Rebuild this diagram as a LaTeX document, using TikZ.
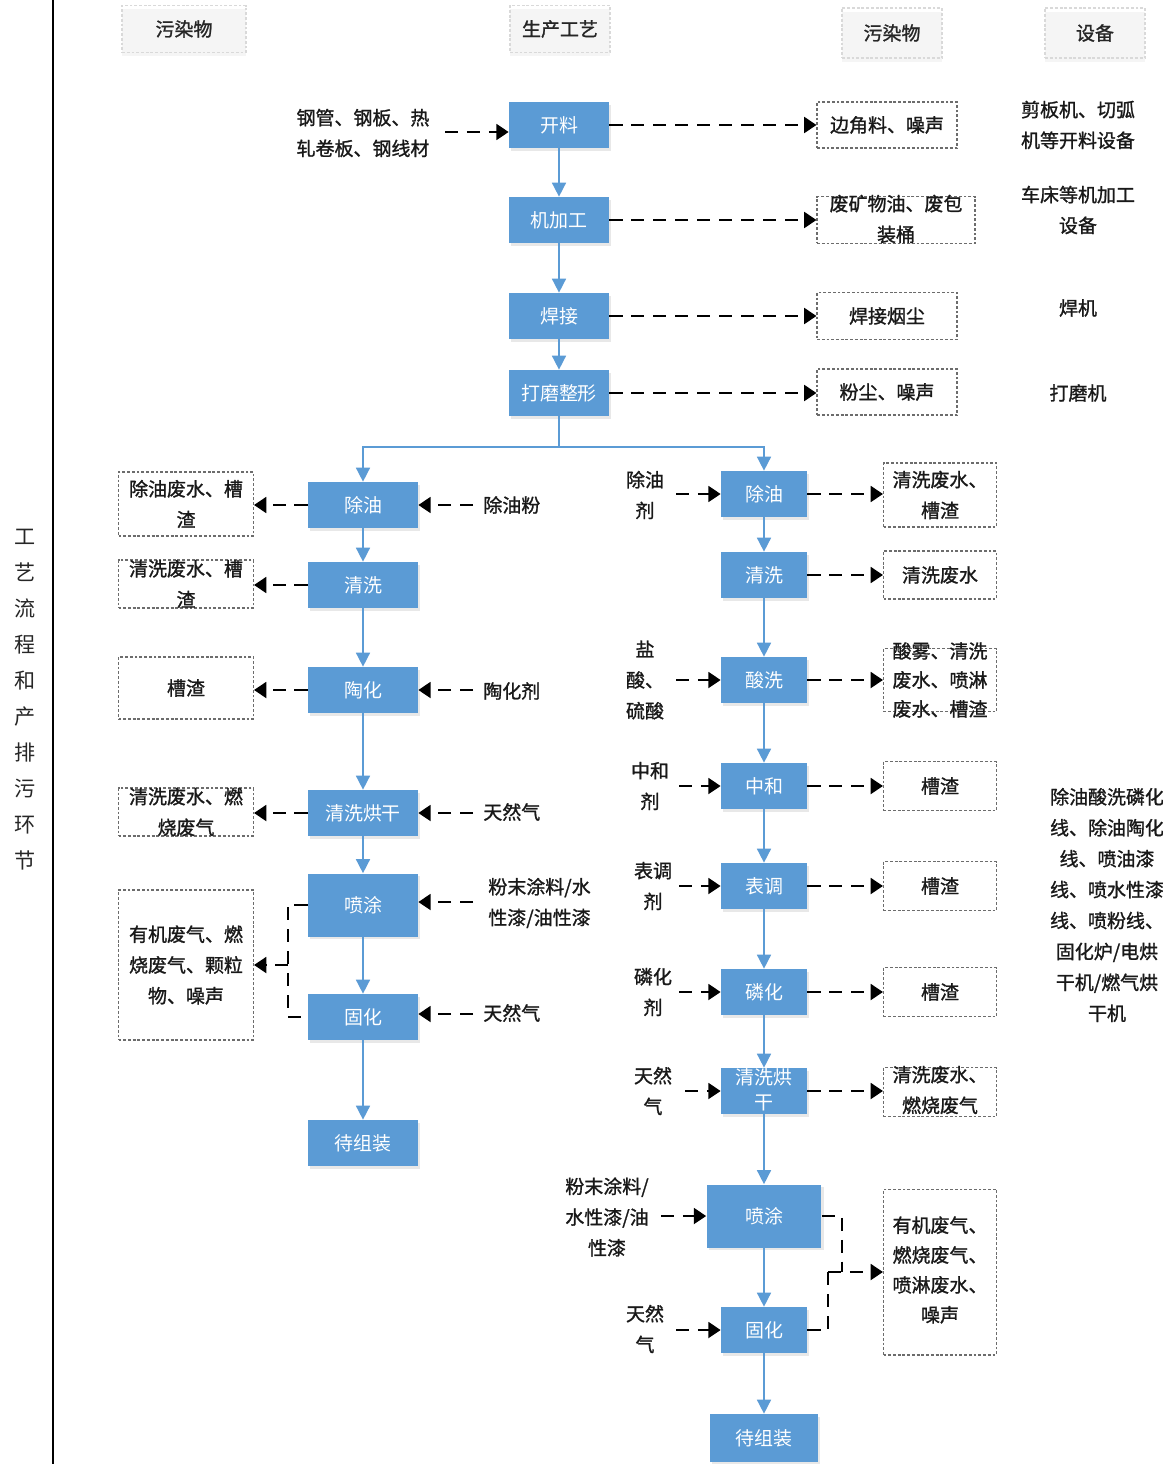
\documentclass[tikz,border=0pt]{standalone}
\usepackage{fontspec}
\newfontfamily\cjk{Noto Sans CJK SC}
\newfontfamily\cjkb{Noto Sans CJK SC}[FakeBold=1.2]
\usetikzlibrary{arrows.meta,shadows}
\definecolor{pblue}{HTML}{5B9BD5}
\tikzset{
  pbox/.style={fill=pblue, draw=none, text=white, font=\cjk\fontsize{10.8}{15}\selectfont, align=center, inner sep=0pt, minimum height=0.92cm, drop shadow={opacity=0.18, shadow xshift=1.2pt, shadow yshift=-1.5pt}},
  lbox/.style={pbox, minimum width=2.2cm},
  rbox/.style={pbox, minimum width=1.72cm},
  tbox/.style={pbox, minimum width=2.0cm},
  obox/.style={draw=gray!85!black, dash pattern=on 1.6pt off 1.1pt, line width=0.6pt, inner sep=0pt},
  hbox/.style={draw=gray!30, dash pattern=on 1.6pt off 1.1pt, line width=0.6pt, inner sep=0pt, minimum width=2cm, minimum height=0.94cm, font=\cjkb\fontsize{10.8}{15}\selectfont, text=black!85, drop shadow={opacity=0.08, shadow xshift=0pt, shadow yshift=-2pt}},
  txt/.style={font=\cjkb\fontsize{10.8}{17.5}\selectfont, align=center, inner sep=0pt, text=black!90},
  wtxt/.style={font=\cjk\fontsize{10.8}{16}\selectfont, align=center, inner sep=0pt, text=white},
  flow/.style={draw=pblue, line width=0.9pt, -{Triangle[width=8pt,length=8pt]}},
  fline/.style={draw=pblue, line width=0.9pt},
  darr/.style={line width=1.4pt, dash pattern=on 7.5pt off 5pt, -{Triangle[width=9pt,length=7pt]}},
  dline/.style={line width=1.4pt, dash pattern=on 7.5pt off 5pt},
}
\begin{document}
\begin{tikzpicture}[x=0.02cm,y=-0.02cm]
\useasboundingbox (0,0) rectangle (1163,1464);
\fill[white] (0,0) rectangle (1163,1464);
\clip (0,0) rectangle (1163,1464);

% side title
\draw[line width=0.9pt] (53,0) -- (53,1464);
\node[font=\cjk\fontsize{12}{20.5}\selectfont, align=center, inner sep=0pt, text=black!85] (title) at (25,700) {工\\艺\\流\\程\\和\\产\\排\\污\\环\\节};

% headers
\node[hbox, minimum width=2.48cm] (h1) at (184,29) {污染物};
\node[hbox] (h2) at (560,29) {生产工艺};
\node[hbox, minimum height=1.0cm] (h3) at (892,33) {污染物};
\node[hbox, minimum height=1.0cm] (h4) at (1095,33) {设备};

% top process
\node[tbox] (kl) at (559,125) {开料};
\node[tbox] (jjg) at (559,220) {机加工};
\node[tbox] (hj) at (559,316) {焊接};
\node[tbox] (dm) at (559,393) {打磨整形};
\draw[flow] (kl) -- (jjg);
\draw[flow] (jjg) -- (hj);
\draw[flow] (hj) -- (dm);

\node[txt] (in0) at (363,133) {钢管、钢板、热\\轧卷板、钢线材};
\coordinate (in0s) at (445,132);
\draw[darr] (in0s) -- (in0s -| kl.west);

\node[obox, minimum width=2.8cm, minimum height=0.92cm] (ot1) at (887,125) {};
\node[txt] (ot1t) at (ot1) {边角料、噪声};
\node[obox, minimum width=3.16cm, minimum height=0.94cm] (ot2) at (896,220) {};
\node[txt] (ot2t) at (896,219) {废矿物油、废包\\装桶};
\node[obox, minimum width=2.8cm, minimum height=0.94cm] (ot3) at (887,316) {};
\node[txt] (ot3t) at (ot3) {焊接烟尘};
\node[obox, minimum width=2.8cm, minimum height=0.92cm] (ot4) at (887,392) {};
\node[txt] (ot4t) at (ot4) {粉尘、噪声};
\draw[darr] (kl.east) -- (kl.east -| ot1.west);
\draw[darr] (jjg.east) -- (jjg.east -| ot2.west);
\draw[darr] (hj.east) -- (hj.east -| ot3.west);
\draw[darr] (dm.east) -- (dm.east -| ot4.west);

\node[txt] (e1) at (1078,125) {剪板机、切弧\\机等开料设备};
\node[txt] (e2) at (1078,210) {车床等机加工\\设备};
\node[txt] (e3) at (1078,308) {焊机};
\node[txt] (e4) at (1078,393) {打磨机};

% split
\coordinate (sp) at (559,447);
\draw[fline] (dm.south) -- (sp);

% left column
\node[lbox] (l1) at (363,505) {除油};
\node[lbox] (l2) at (363,585) {清洗};
\node[lbox] (l3) at (363,690) {陶化};
\node[lbox] (l4) at (363,813) {清洗烘干};
\node[lbox, minimum height=1.26cm] (l5) at (363,905) {喷涂};
\node[lbox] (l6) at (363,1017) {固化};
\node[lbox] (l7) at (363,1143) {待组装};
\draw[flow] (sp) -| (l1.north);
\draw[flow] (l1) -- (l2);
\draw[flow] (l2) -- (l3);
\draw[flow] (l3) -- (l4);
\draw[flow] (l4) -- (l5);
\draw[flow] (l5) -- (l6);
\draw[flow] (l6) -- (l7);

\node[obox, minimum width=2.7cm, minimum height=1.28cm] (lo1) at (186,504) {};
\node[txt] (lo1t) at (lo1) {除油废水、槽\\渣};
\node[obox, minimum width=2.7cm, minimum height=0.96cm] (lo2) at (186,584) {};
\node[txt] (lo2t) at (lo2) {清洗废水、槽\\渣};
\node[obox, minimum width=2.7cm, minimum height=1.24cm] (lo3) at (186,688) {};
\node[txt] (lo3t) at (lo3) {槽渣};
\node[obox, minimum width=2.7cm, minimum height=0.96cm] (lo4) at (186,812) {};
\node[txt] (lo4t) at (lo4) {清洗废水、燃\\烧废气};
\node[obox, minimum width=2.7cm, minimum height=3.0cm] (lo5) at (186,965) {};
\node[txt] (lo5t) at (lo5) {有机废气、燃\\烧废气、颗粒\\物、噪声};
\draw[darr] (l1.west) -- (l1.west -| lo1.east);
\draw[darr] (l2.west) -- (l2.west -| lo2.east);
\draw[darr] (l3.west) -- (l3.west -| lo3.east);
\draw[darr] (l4.west) -- (l4.west -| lo4.east);
\coordinate (lbx) at (288,965);
\draw[dline] (l5.west) -- (l5.west -| lbx) -- (l6.west -| lbx) -- (l6.west);
\draw[darr] (lbx) -- (lbx -| lo5.east);

\node[txt, anchor=west] (li1) at (483,505) {除油粉};
\node[txt, anchor=west] (li3) at (483,691) {陶化剂};
\node[txt, anchor=west] (li4) at (483,812) {天然气};
\node[txt, anchor=west, align=left] (li5) at (488,903) {粉末涂料/水\\性漆/油性漆};
\node[txt, anchor=west] (li6) at (483,1013) {天然气};
\coordinate (ls1) at (473,505);
\coordinate (ls3) at (473,690);
\coordinate (ls4) at (473,813);
\coordinate (ls5) at (473,902);
\coordinate (ls6) at (473,1014);
\draw[darr] (ls1) -- (ls1 -| l1.east);
\draw[darr] (ls3) -- (ls3 -| l3.east);
\draw[darr] (ls4) -- (ls4 -| l4.east);
\draw[darr] (ls5) -- (ls5 -| l5.east);
\draw[darr] (ls6) -- (ls6 -| l6.east);

% right column
\node[rbox] (r1) at (764,494) {除油};
\node[rbox] (r2) at (764,575) {清洗};
\node[rbox] (r3) at (764,680) {酸洗};
\node[rbox] (r4) at (764,786) {中和};
\node[rbox] (r5) at (764,886) {表调};
\node[rbox] (r6) at (764,992) {磷化};
\node[rbox] (r7) at (764,1091) {};
\node[wtxt, font=\cjk\fontsize{10.8}{14.5}\selectfont] (r7t) at (764,1090) {清洗烘\\干};
\node[rbox, minimum width=2.3cm, minimum height=1.26cm] (r8) at (764,1216) {喷涂};
\node[rbox] (r9) at (764,1330) {固化};
\node[rbox, minimum width=2.16cm, minimum height=0.96cm] (r10) at (764,1438) {待组装};
\draw[flow] (sp) -| (r1.north);
\draw[flow] (r1) -- (r2);
\draw[flow] (r2) -- (r3);
\draw[flow] (r3) -- (r4);
\draw[flow] (r4) -- (r5);
\draw[flow] (r5) -- (r6);
\draw[flow] (r6) -- (r7);
\draw[flow] (r7) -- (r8);
\draw[flow] (r8) -- (r9);
\draw[flow] (r9) -- (r10);

\node[txt] (ri1) at (645,495) {除油\\剂};
\node[txt] (ri3) at (645,680) {盐\\酸、\\硫酸};
\node[txt] (ri4) at (650,786) {中和\\剂};
\node[txt] (ri5) at (653,886) {表调\\剂};
\node[txt] (ri6) at (653,992) {磷化\\剂};
\node[txt] (ri7) at (653,1091) {天然\\气};
\node[txt] (ri8) at (607,1217) {粉末涂料/\\水性漆/油\\性漆};
\node[txt] (ri9) at (645,1329) {天然\\气};
\coordinate (rs1) at (676,494);
\coordinate (rs3) at (676,680);
\coordinate (rs4) at (679,786);
\coordinate (rs5) at (679,886);
\coordinate (rs6) at (679,992);
\coordinate (rs7) at (685,1091);
\coordinate (rs8) at (661,1216);
\coordinate (rs9) at (676,1330);
\draw[darr] (rs1) -- (rs1 -| r1.west);
\draw[darr] (rs3) -- (rs3 -| r3.west);
\draw[darr] (rs4) -- (rs4 -| r4.west);
\draw[darr] (rs5) -- (rs5 -| r5.west);
\draw[darr] (rs6) -- (rs6 -| r6.west);
\draw[darr] (rs7) -- (rs7 -| r7.west);
\draw[darr] (rs8) -- (rs8 -| r8.west);
\draw[darr] (rs9) -- (rs9 -| r9.west);

\node[obox, minimum width=2.26cm, minimum height=1.28cm] (ro1) at (940,495) {};
\node[txt] (ro1t) at (ro1) {清洗废水、\\槽渣};
\node[obox, minimum width=2.26cm, minimum height=0.96cm] (ro2) at (940,575) {};
\node[txt] (ro2t) at (ro2) {清洗废水};
\node[obox, minimum width=2.26cm, minimum height=1.26cm] (ro3) at (940,680) {};
\node[txt, font=\cjkb\fontsize{10.8}{16.5}\selectfont] (ro3t) at (ro3) {酸雾、清洗\\废水、喷淋\\废水、槽渣};
\node[obox, minimum width=2.26cm, minimum height=0.98cm] (ro4) at (940,786) {};
\node[txt] (ro4t) at (ro4) {槽渣};
\node[obox, minimum width=2.26cm, minimum height=0.98cm] (ro5) at (940,886) {};
\node[txt] (ro5t) at (ro5) {槽渣};
\node[obox, minimum width=2.26cm, minimum height=0.98cm] (ro6) at (940,992) {};
\node[txt] (ro6t) at (ro6) {槽渣};
\node[obox, minimum width=2.26cm, minimum height=0.98cm] (ro7) at (940,1092) {};
\node[txt] (ro7t) at (940,1090) {清洗废水、\\燃烧废气};
\node[obox, minimum width=2.26cm, minimum height=3.32cm] (ro8) at (940,1272) {};
\node[txt, font=\cjkb\fontsize{10.8}{17}\selectfont] (ro8t) at (940,1270) {有机废气、\\燃烧废气、\\喷淋废水、\\噪声};
\draw[darr] (r1.east) -- (r1.east -| ro1.west);
\draw[darr] (r2.east) -- (r2.east -| ro2.west);
\draw[darr] (r3.east) -- (r3.east -| ro3.west);
\draw[darr] (r4.east) -- (r4.east -| ro4.west);
\draw[darr] (r5.east) -- (r5.east -| ro5.west);
\draw[darr] (r6.east) -- (r6.east -| ro6.west);
\draw[darr] (r7.east) -- (r7.east -| ro7.west);
\coordinate (rb1) at (842,1272);
\coordinate (rb2) at (828,1272);
\draw[dline] (r8.east) -- (r8.east -| rb1) -- (rb1);
\draw[dline] (r9.east) -- (r9.east -| rb2) -- (rb2);
\draw[darr] (rb2) -- (rb2 -| ro8.west);

\node[txt, font=\cjkb\fontsize{10.8}{17.6}\selectfont] (e5) at (1107,905) {除油酸洗磷化\\线、除油陶化\\线、喷油漆\\线、喷水性漆\\线、喷粉线、\\固化炉/电烘\\干机/燃气烘\\干机};
\end{tikzpicture}
\end{document}
